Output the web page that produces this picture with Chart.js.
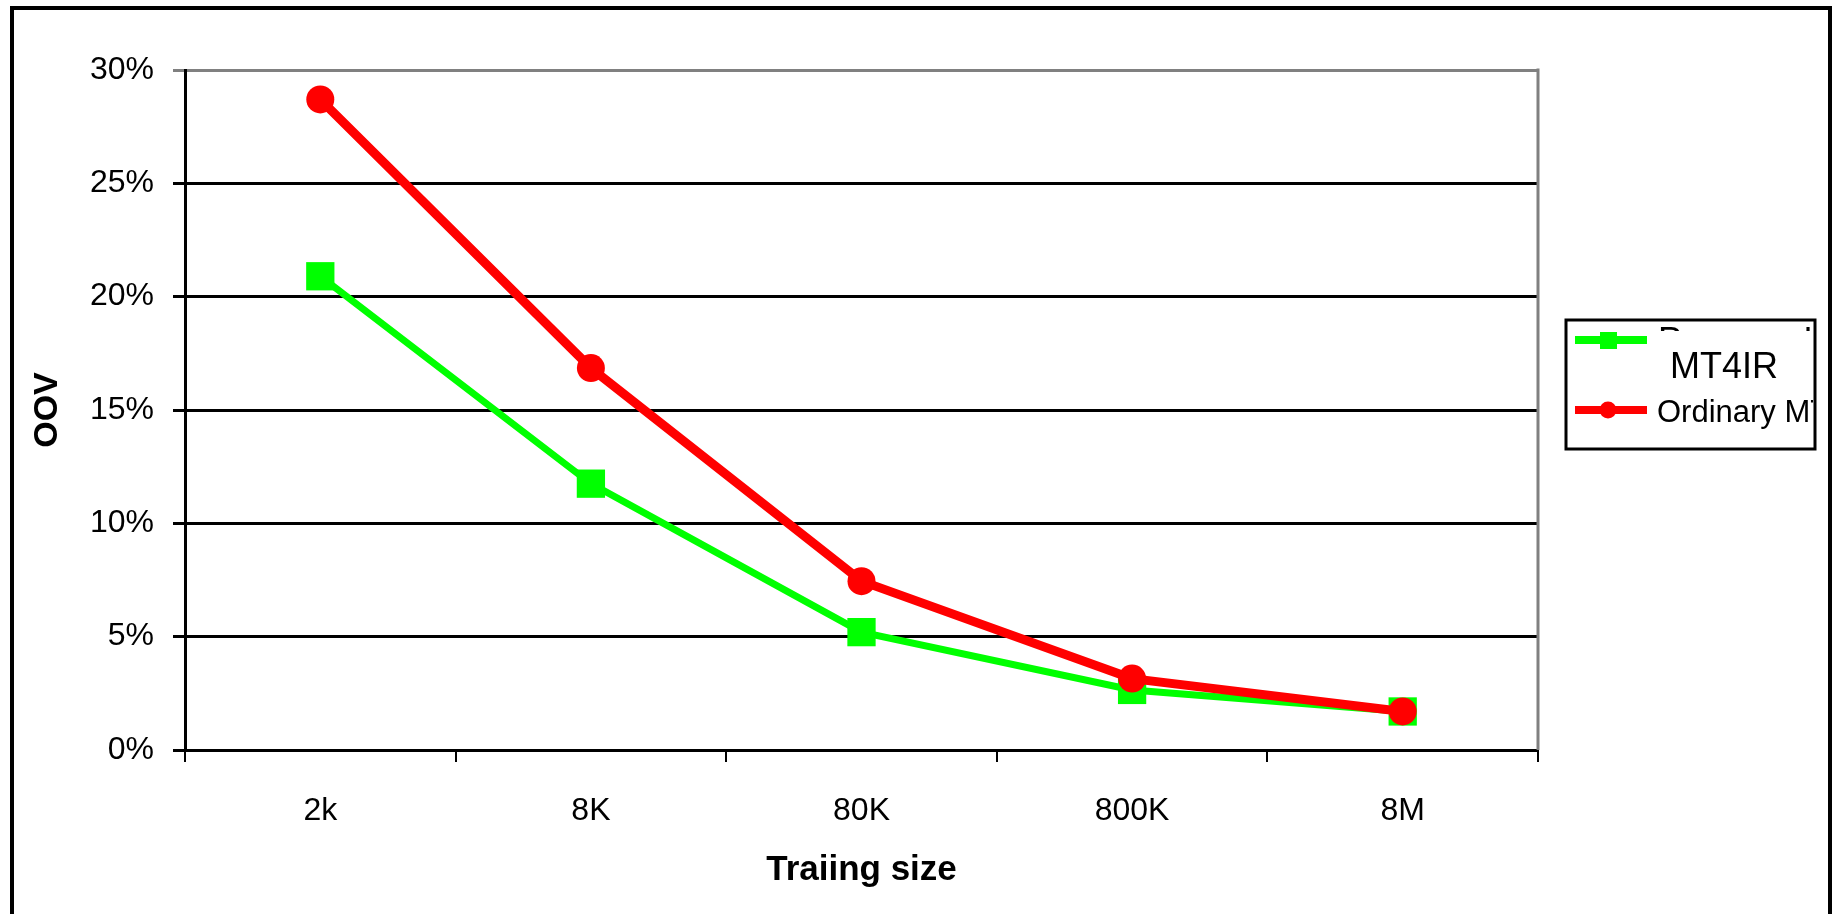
<!DOCTYPE html>
<html>
<head>
<meta charset="utf-8">
<script src="https://cdn.jsdelivr.net/npm/chart.js@4"></script>
<style>
  html, body { margin: 0; padding: 0; background: #fff; overflow: hidden; }
  canvas { display: block; }
</style>
</head>
<body>
<canvas id="chart" width="1838" height="914"></canvas>
<script>
// data
const sizes = ['2k', '8K', '80K', '800K', '8M'];
const proposedOOV = [20.9, 11.75, 5.2, 2.65, 1.7];
const ordinaryOOV = [28.7, 16.85, 7.45, 3.15, 1.7];
const yTicks = [0, 5, 10, 15, 20, 25, 30];

const FONT = 'Liberation Sans, Arial, sans-serif';

// outer frame + right edge of the plot
const framePlugin = {
    id: 'frame',
    beforeDraw(chart) {
        const ctx = chart.ctx;
        ctx.save();
        ctx.fillStyle = '#fff';
        ctx.fillRect(0, 0, chart.width, chart.height);
        ctx.strokeStyle = '#000';
        ctx.lineWidth = 4;
        ctx.beginPath();
        ctx.moveTo(12, chart.height + 10);
        ctx.lineTo(12, 8);
        ctx.lineTo(1830, 8);
        ctx.lineTo(1830, chart.height + 10);
        ctx.stroke();
        ctx.restore();
    },
    beforeDatasetsDraw(chart) {
        const {ctx, chartArea} = chart;
        ctx.save();
        ctx.strokeStyle = '#808080';
        ctx.lineWidth = 3;
        ctx.beginPath();
        ctx.moveTo(chartArea.right, chartArea.top - 1.5);
        ctx.lineTo(chartArea.right, chartArea.bottom);
        ctx.stroke();
        ctx.restore();
    }
};

// excel style legend box (first line of the long label is cut off)
const legendPlugin = {
    id: 'oldLegend',
    afterDraw(chart) {
        const ctx = chart.ctx;
        const box = {x: 1566, y: 320, w: 249, h: 129};
        ctx.save();
        ctx.fillStyle = '#fff';
        ctx.fillRect(box.x, box.y, box.w, box.h);
        ctx.strokeStyle = '#000';
        ctx.lineWidth = 3;
        ctx.strokeRect(box.x, box.y, box.w, box.h);
        ctx.beginPath();
        ctx.rect(box.x + 2, box.y + 2, box.w - 4, box.h - 4);
        ctx.clip();

        const rows = [340, 410];
        chart.data.datasets.forEach((ds, i) => {
            const y = rows[i];
            ctx.strokeStyle = ds.borderColor;
            ctx.lineWidth = 8;
            ctx.beginPath();
            ctx.moveTo(1575, y);
            ctx.lineTo(1647, y);
            ctx.stroke();
            ctx.fillStyle = ds.borderColor;
            if (ds.pointStyle === 'rect') {
                ctx.fillRect(1600, y - 8, 17, 17);
            } else {
                ctx.beginPath();
                ctx.arc(1608, y, 8.5, 0, Math.PI * 2);
                ctx.fill();
            }
        });

        ctx.fillStyle = '#000';
        ctx.textBaseline = 'alphabetic';
        // Proposed MT4IR - wrapped, top line clipped away
        const words = chart.data.datasets[0].label.split(' ');
        ctx.save();
        ctx.beginPath();
        ctx.rect(box.x, 327, box.w, 4);
        ctx.clip();
        ctx.font = '36px ' + FONT;
        ctx.fillText(words[0], 1658, 353);
        ctx.restore();
        ctx.font = '36px ' + FONT;
        ctx.fillText(words[1], 1670, 378);
        ctx.font = '31px ' + FONT;
        ctx.fillText(chart.data.datasets[1].label, 1657, 422);
        ctx.restore();
    }
};

const ctx = document.getElementById('chart').getContext('2d');
new Chart(ctx, {
    type: 'line',
    data: {
        labels: sizes,
        datasets: [{
            label: 'Proposed MT4IR',
            data: proposedOOV,
            borderColor: '#00ff00',
            backgroundColor: '#00ff00',
            borderWidth: 7,
            pointStyle: 'rect',
            pointRadius: 20,
            pointBorderWidth: 0,
            tension: 0,
            order: 1
        }, {
            label: 'Ordinary MT',
            data: ordinaryOOV,
            borderColor: '#ff0000',
            backgroundColor: '#ff0000',
            borderWidth: 9,
            pointStyle: 'circle',
            pointRadius: 14,
            pointBorderWidth: 0,
            tension: 0,
            order: 0
        }]
    },
    options: {
        responsive: false,
        animation: false,
        devicePixelRatio: 1,
        layout: { padding: { top: 70, right: 300, bottom: 0, left: 0 } },
        plugins: {
            legend: { display: false },
            tooltip: { enabled: false }
        },
        scales: {
            x: {
                offset: true,
                afterFit: s => { s.height = 164; },
                grid: {
                    offset: true,
                    drawOnChartArea: false,
                    drawTicks: true,
                    tickLength: 12,
                    color: '#000',
                    lineWidth: 2
                },
                border: { color: '#000', width: 3 },
                ticks: {
                    color: '#000',
                    font: { family: FONT, size: 32 },
                    padding: 30,
                    maxRotation: 0
                },
                title: {
                    display: true,
                    text: 'Traiing size',
                    color: '#000',
                    font: { family: FONT, size: 35, weight: 'bold' },
                    padding: { top: 0, bottom: 23 }
                }
            },
            y: {
                min: 0,
                max: 30,
                afterFit: s => { s.width = 185; },
                afterBuildTicks: s => { s.ticks = yTicks.map(v => ({ value: v })); },
                grid: {
                    color: c => (c.tick && c.tick.value === 30) ? '#808080' : '#000',
                    lineWidth: 3,
                    tickLength: 12,
                    drawTicks: true
                },
                border: { color: '#000', width: 3 },
                ticks: {
                    color: '#000',
                    font: { family: FONT, size: 32 },
                    padding: 19,
                    callback: v => v + '%'
                },
                title: {
                    display: true,
                    text: 'OOV',
                    color: '#000',
                    font: { family: FONT, size: 34, weight: 'bold' },
                    padding: { top: 27, bottom: 0 }
                }
            }
        }
    },
    plugins: [framePlugin, legendPlugin]
});
</script>
</body>
</html>
